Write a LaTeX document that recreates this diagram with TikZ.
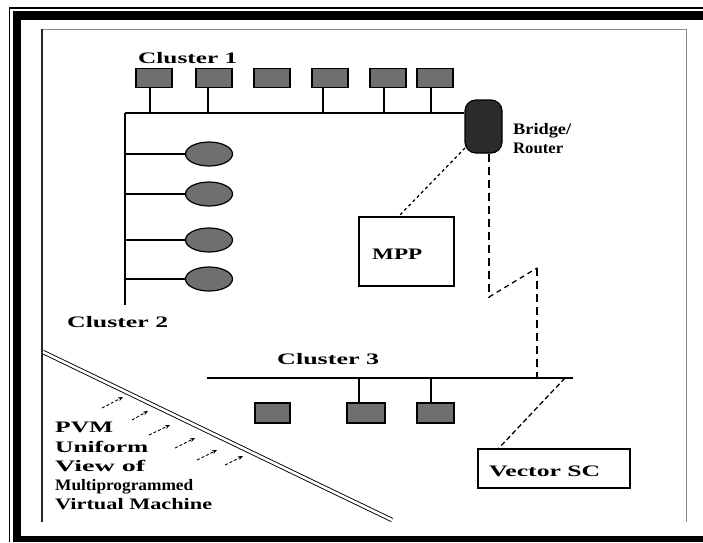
\documentclass[tikz,border=0pt]{standalone}
\usepackage{fontspec}
\setmainfont{Liberation Serif}
\usepackage{graphicx}
\usetikzlibrary{arrows.meta,shapes.geometric}
\definecolor{boxgray}{HTML}{6F6F6F}
\definecolor{brdark}{HTML}{2B2B2B}
\definecolor{framegray}{HTML}{8A8A8A}
\newcommand{\wt}[2]{\resizebox{#1pt}{\height}{#2}}
\tikzset{
  pc/.style={draw=black, line width=1.3pt, fill=boxgray, minimum width=36pt, minimum height=19pt, inner sep=0pt},
  ws/.style={draw=black, line width=1.2pt, fill=boxgray, ellipse, minimum width=47pt, minimum height=24pt, inner sep=0pt},
  lbl/.style={anchor=base west, inner sep=0pt, font=\fontsize{16}{19}\selectfont\bfseries},
  bus/.style={line width=1.6pt},
  wan/.style={line width=1.5pt, dash pattern=on 8pt off 5pt},
  dots/.style={line width=1.3pt, dash pattern=on 3pt off 3pt},
  smallarrow/.style={line width=0.9pt, dash pattern=on 3pt off 2pt, -{Stealth[length=5pt,width=4pt]}},
  framebox/.style={draw=black, line width=1.6pt, fill=white, inner sep=0pt}
}
\begin{document}
\begin{tikzpicture}[x=1pt,y=-1pt]
\useasboundingbox (0,0) rectangle (703,542);
\fill[white] (0,0) rectangle (703,542);
% outer frame
\draw[line width=1.5pt] (9.5,542) -- (9.5,8) -- (703,8);
\fill[black] (13,542) rectangle (21,11);
\fill[black] (13,11) rectangle (703,19.5);
\fill[black] (13,536) rectangle (703,542);
% inner frame
\draw[framegray, line width=1pt] (42,29) -- (686,29) -- (686,522);
\draw[black!85, line width=2.2pt] (42,28.5) -- (42,522);

% Cluster 1
\node[lbl] (cl1) at (138,63) {\wt{99}{Cluster 1}};
\node[pc] (a1) at (154,78) {};
\node[pc] (a2) at (214,78) {};
\node[pc] (a3) at (272,78) {};
\node[pc] (a4) at (330,78) {};
\node[pc] (a5) at (388,78) {};
\node[pc] (a6) at (435,78) {};
\node[draw=black, line width=1.2pt, fill=brdark, rounded corners=11pt, minimum width=37pt, minimum height=53pt, inner sep=0pt] (br) at (483.5,126.5) {};
\coordinate (busL) at (125,113);
\draw[bus] (busL) -- (busL -| br.west);
\coordinate (s1) at (150,113);
\coordinate (s2) at (208,113);
\coordinate (s4) at (323,113);
\coordinate (s5) at (384,113);
\coordinate (s6) at (431,113);
\draw[line width=1.4pt] (s1) -- (s1 |- a1.south);
\draw[line width=1.4pt] (s2) -- (s2 |- a2.south);
\draw[line width=1.4pt] (s4) -- (s4 |- a4.south);
\draw[line width=1.4pt] (s5) -- (s5 |- a5.south);
\draw[line width=1.4pt] (s6) -- (s6 |- a6.south);
\node[lbl] (brl1) at (513,134) {\wt{58}{Bridge/}};
\node[lbl] (brl2) at (513,153) {\wt{50}{Router}};

% Cluster 2
\coordinate (busB) at (125,305);
\draw[bus] (busL) -- (busB);
\node[ws] (e1) at (209,154) {};
\node[ws] (e2) at (209,194) {};
\node[ws] (e3) at (209,240) {};
\node[ws] (e4) at (209,279) {};
\draw[line width=1.3pt] (e1.west -| busL) -- (e1.west);
\draw[line width=1.3pt] (e2.west -| busL) -- (e2.west);
\draw[line width=1.3pt] (e3.west -| busL) -- (e3.west);
\draw[line width=1.3pt] (e4.west -| busL) -- (e4.west);
\node[lbl] (cl2) at (67,327) {\wt{101}{Cluster 2}};

% MPP
\node[framebox, minimum width=95pt, minimum height=69pt] (mpp) at (406.5,251.5) {};
\node[lbl] (mppl) at (372,259) {\wt{50}{MPP}};
\coordinate (brsw) at (465,148);
\coordinate (mppt) at (398,217);
\draw[dots] (brsw) -- (mppt);

% Cluster 3
\node[lbl] (cl3) at (277,364) {\wt{102}{Cluster 3}};
\coordinate (c3L) at (207,378);
\coordinate (c3R) at (573,378);
\draw[bus] (c3L) -- (c3R);
\node[pc, minimum width=35pt, minimum height=20pt] (b1) at (272.5,413) {};
\node[pc, minimum width=38pt, minimum height=20pt] (b2) at (366,413) {};
\node[pc, minimum width=37pt, minimum height=20pt] (b3) at (435.5,413) {};
\coordinate (t2) at (359,378);
\coordinate (t3) at (431,378);
\draw[line width=1.4pt] (t2) -- (t2 |- b2.north);
\draw[line width=1.4pt] (t3) -- (t3 |- b3.north);

% WAN zigzag from bridge to cluster 3
\coordinate (z1) at (489,297);
\coordinate (z2) at (537,268);
\coordinate (z3) at (537,378);
\draw[wan] (z1 |- br.south) -- (z1);
\draw[line width=1.3pt, dash pattern=on 5pt off 4pt] (z1) -- (z2);
\draw[wan] (z2) -- (z3);

% Vector SC
\node[framebox, minimum width=152pt, minimum height=39pt] (vsc) at (554,468.5) {};
\node[lbl] (vscl) at (489,476) {\wt{111}{Vector SC}};
\coordinate (v3) at (565,378);
\coordinate (vtop) at (498,449);
\draw[line width=1.3pt, dash pattern=on 5pt off 3pt] (v3) -- (vtop);

% PVM double line and arrows
\coordinate (d1) at (43,352);
\coordinate (d2) at (392,520);
\draw[double=white, double distance=2.6pt, line width=0.9pt] (d1) -- (d2);
\coordinate (p1t) at (102,408); \coordinate (p1h) at (123,397);
\coordinate (p2t) at (132,420); \coordinate (p2h) at (148,411);
\coordinate (p3t) at (149,435); \coordinate (p3h) at (170,425);
\coordinate (p4t) at (175,448); \coordinate (p4h) at (195,438);
\coordinate (p5t) at (197,460); \coordinate (p5h) at (217,450);
\coordinate (p6t) at (225,465); \coordinate (p6h) at (243,456);
\draw[smallarrow] (p1t) -- (p1h);
\draw[smallarrow] (p2t) -- (p2h);
\draw[smallarrow] (p3t) -- (p3h);
\draw[smallarrow] (p4t) -- (p4h);
\draw[smallarrow] (p5t) -- (p5h);
\draw[smallarrow] (p6t) -- (p6h);
\node[lbl] (pv1) at (55,432) {\wt{58}{PVM}};
\node[lbl] (pv2) at (55,452) {\wt{93}{Uniform}};
\node[lbl] (pv3) at (55,471) {\wt{90}{View of}};
\node[lbl] (pv4) at (55,490) {\wt{138}{Multiprogrammed}};
\node[lbl] (pv5) at (55,509) {\wt{157}{Virtual Machine}};
\end{tikzpicture}
\end{document}
